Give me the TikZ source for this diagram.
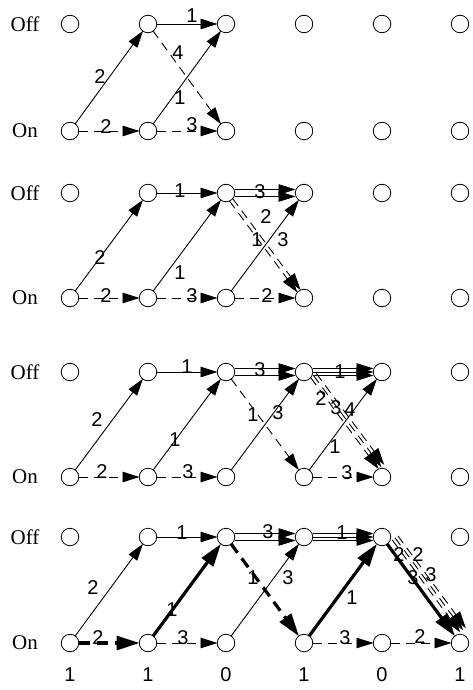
\documentclass[tikz,border=0pt]{standalone}
\usepackage{fontspec}
\setmainfont{Liberation Serif}
\newfontfamily\labfont{Liberation Sans}
\usetikzlibrary{arrows.meta,calc}
\tikzset{
  st/.style={circle,draw,line width=0.8bp,minimum size=17.5bp,inner sep=0pt},
  edge/.style={line width=0.9bp, shorten <=8.5bp, shorten >=8.5bp, -{Triangle[length=17bp,width=10.5bp]}},
  thk/.style={line width=3.2bp, -{Triangle[length=23bp,width=14bp]}},
  dsh/.style={dash pattern=on 9bp off 6bp},
  tdsh/.style={dash pattern=on 11bp off 7bp},
  lab/.style={font=\labfont\fontsize{20bp}{20bp}\selectfont, inner sep=0pt},
  rowlab/.style={font=\fontsize{21bp}{21bp}\selectfont, inner sep=0pt},
}
\newcommand\lk[3][]{\draw[edge,#1] (#2.center) -- (#3.center);}
\newcommand\olk[4][]{\draw[edge,#1] ($(#2.center)!#4!90:(#3.center)$) -- ($(#3.center)!#4!-90:(#2.center)$);}
\newcommand\lb[3]{\node[lab] (#1) at (#2) {#3};}
\begin{document}
\begin{tikzpicture}[x=1bp,y=-1bp]
\useasboundingbox (0,0) rectangle (473,690);
\fill[white] (0,0) rectangle (473,690);
\foreach \p/\yo/\yn in {A/24/131, B/193/298, C/372/477, D/537/643} {
  \foreach \c/\x in {0/70,1/148,2/226,3/304,4/382,5/460} {
    \node[st] (\p o\c) at (\x,\yo) {};
    \node[st] (\p n\c) at (\x,\yn) {};
  }
  \node[rowlab] (\p off) at (25,\yo) {Off};
  \node[rowlab] (\p on) at (25,\yn) {On};
}
% Panel A
\lk{An0}{Ao1}
\lk[dsh]{An0}{An1}
\lk{Ao1}{Ao2}
\lk[dsh]{Ao1}{An2}
\lk{An1}{Ao2}
\lk[dsh]{An1}{An2}
\lb{a1}{100,77}{2}
\lb{a2}{106,127}{2}
\lb{a3}{192,16}{1}
\lb{a4}{178,53}{4}
\lb{a5}{180,98}{1}
\lb{a6}{192,125}{3}
% Panel B
\lk{Bn0}{Bo1}
\lk[dsh]{Bn0}{Bn1}
\lk{Bo1}{Bo2}
\lk{Bn1}{Bo2}
\lk[dsh]{Bn1}{Bn2}
\olk{Bo2}{Bo3}{3.5bp}
\olk{Bo2}{Bo3}{-3.5bp}
\olk[dsh]{Bo2}{Bn3}{2bp}
\olk[dsh]{Bo2}{Bn3}{-2bp}
\lk{Bn2}{Bo3}
\lk[dsh]{Bn2}{Bn3}
\lb{b1}{100,258}{2}
\lb{b2}{106,296}{2}
\lb{b3}{180,191}{1}
\lb{b4}{180,273}{1}
\lb{b5}{192,296}{3}
\lb{b6}{260,192}{3}
\lb{b7}{266,217}{2}
\lb{b8}{257,240}{1}
\lb{b9}{283,240}{3}
\lb{b10}{267,296}{2}
% Panel C
\lk{Cn0}{Co1}
\lk[dsh]{Cn0}{Cn1}
\lk{Co1}{Co2}
\lk{Cn1}{Co2}
\lk[dsh]{Cn1}{Cn2}
\olk{Co2}{Co3}{3.5bp}
\olk{Co2}{Co3}{-3.5bp}
\lk[dsh]{Co2}{Cn3}
\lk{Cn2}{Co3}
\olk{Co3}{Co4}{3.5bp}
\olk{Co3}{Co4}{0bp}
\olk{Co3}{Co4}{-3.5bp}
\olk[dsh]{Co3}{Cn4}{2bp}
\olk[dsh]{Co3}{Cn4}{5.5bp}
\olk[dsh]{Co3}{Cn4}{9bp}
\lk{Cn3}{Co4}
\lk[dsh]{Cn3}{Cn4}
\lb{c1}{97,420}{2}
\lb{c2}{102,472}{2}
\lb{c3}{187,367}{1}
\lb{c4}{175,440}{1}
\lb{c5}{188,472}{3}
\lb{c6}{260,370}{3}
\lb{c7}{253,415}{1}
\lb{c8}{278,413}{3}
\lb{c9}{340,372}{1}
\lb{c10}{321,399}{2}
\lb{c11}{336,408}{3}
\lb{c12}{350,410}{4}
\lb{c13}{335,447}{1}
\lb{c14}{347,473}{3}
% Panel D
\lk{Dn0}{Do1}
\lk[thk,tdsh]{Dn0}{Dn1}
\lk{Do1}{Do2}
\lk[thk]{Dn1}{Do2}
\lk[dsh]{Dn1}{Dn2}
\olk{Do2}{Do3}{3.5bp}
\olk{Do2}{Do3}{-3.5bp}
\lk[thk,tdsh]{Do2}{Dn3}
\lk{Dn2}{Do3}
\olk{Do3}{Do4}{3.5bp}
\olk{Do3}{Do4}{0bp}
\olk{Do3}{Do4}{-3.5bp}
\lk[thk]{Dn3}{Do4}
\lk[dsh]{Dn3}{Dn4}
\lk[thk]{Do4}{Dn5}
\olk[dsh]{Do4}{Dn5}{6.5bp}
\olk[dsh]{Do4}{Dn5}{10bp}
\olk[dsh]{Do4}{Dn5}{13.5bp}
\lk[dsh]{Dn4}{Dn5}
\lb{d1}{93,588}{2}
\lb{d2}{98,638}{2}
\lb{d3}{182,533}{1}
\lb{d4}{172,610}{1}
\lb{d5}{183,638}{3}
\lb{d6}{268,532}{3}
\lb{d7}{253,578}{1}
\lb{d8}{288,578}{3}
\lb{d9}{342,533}{1}
\lb{d10}{352,598}{1}
\lb{d11}{399,555}{2}
\lb{d12}{418,555}{2}
\lb{d13}{413,578}{3}
\lb{d14}{431,575}{3}
\lb{d15}{345,638}{3}
\lb{d16}{420,637}{2}
% bottom sequence
\lb{s0}{70,675}{1}
\lb{s1}{148,675}{1}
\lb{s2}{226,675}{0}
\lb{s3}{304,675}{1}
\lb{s4}{382,675}{0}
\lb{s5}{460,675}{1}
\end{tikzpicture}
\end{document}
